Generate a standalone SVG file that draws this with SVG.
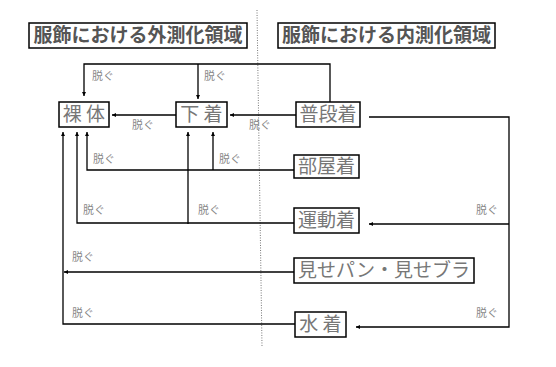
<svg xmlns="http://www.w3.org/2000/svg" width="556" height="367" viewBox="0 0 556 367">
<style>
.title{font-family:"Noto Sans CJK JP","Noto Sans CJK SC",sans-serif;font-size:19px;font-weight:bold;fill:#555}
.node{font-family:"Noto Sans CJK JP","Noto Sans CJK SC",sans-serif;font-size:19px;fill:#777}
.lbl{font-family:"Noto Sans CJK JP","Noto Sans CJK SC",sans-serif;font-size:11px;fill:#888}
.box{fill:#fff;stroke:#000;stroke-width:1.5}
.ln{fill:none;stroke:#000;stroke-width:1.3}
</style>
<defs>
<marker id="ah" viewBox="0 0 10 10" refX="10" refY="5" markerWidth="4" markerHeight="4" orient="auto" markerUnits="userSpaceOnUse">
<path d="M0,0 L10,5 L0,10 z" fill="#000"/>
</marker>
</defs>
<rect width="556" height="367" fill="#fff"/>
<line x1="257" y1="10" x2="262" y2="347" stroke="#777" stroke-width="1" stroke-dasharray="1,1.5"/>
<g id="title-outer"><rect class="box" x="29" y="23" width="218" height="25"/><text class="title" x="138" y="42" text-anchor="middle">服飾における外測化領域</text></g>
<g id="title-inner"><rect class="box" x="278" y="23" width="217" height="25"/><text class="title" x="386.5" y="42" text-anchor="middle">服飾における内測化領域</text></g>
<g id="connectors">
<polyline class="ln" points="330,102 330,64 84,64 84,96" marker-end="url(#ah)"/>
<line class="ln" x1="198" y1="64" x2="198" y2="99" marker-end="url(#ah)"/>
<line class="ln" x1="296" y1="115" x2="230" y2="115" marker-end="url(#ah)"/>
<line class="ln" x1="176" y1="115" x2="112" y2="115" marker-end="url(#ah)"/>
<polyline class="ln" points="369,117 509,117 509,327 356,327" marker-end="url(#ah)"/>
<line class="ln" x1="509" y1="224" x2="369" y2="224" marker-end="url(#ah)"/>
<polyline class="ln" points="294,170 87,170 87,132" marker-end="url(#ah)"/>
<line class="ln" x1="213" y1="170" x2="213" y2="132" marker-end="url(#ah)"/>
<polyline class="ln" points="294,223 77,223 77,132" marker-end="url(#ah)"/>
<line class="ln" x1="188" y1="224" x2="188" y2="132" marker-end="url(#ah)"/>
<polyline class="ln" points="295,324 63,324 63,132" marker-end="url(#ah)"/>
<line class="ln" x1="294" y1="272" x2="64" y2="272" marker-end="url(#ah)"/>
<text class="lbl" x="92" y="80">脱ぐ</text>
<text class="lbl" x="204" y="80">脱ぐ</text>
<text class="lbl" x="132" y="129">脱ぐ</text>
<text class="lbl" x="249" y="129">脱ぐ</text>
<text class="lbl" x="93" y="163">脱ぐ</text>
<text class="lbl" x="219" y="163">脱ぐ</text>
<text class="lbl" x="83" y="214">脱ぐ</text>
<text class="lbl" x="198" y="214">脱ぐ</text>
<text class="lbl" x="72" y="261">脱ぐ</text>
<text class="lbl" x="72" y="317">脱ぐ</text>
<text class="lbl" x="476" y="214">脱ぐ</text>
<text class="lbl" x="476" y="317">脱ぐ</text>
</g>
<g id="hadaka"><rect class="box" x="59" y="102" width="50" height="25"/><text class="node" x="84" y="121" text-anchor="middle">裸 体</text></g>
<g id="shitagi"><rect class="box" x="176" y="102" width="51" height="25"/><text class="node" x="201.5" y="121" text-anchor="middle">下 着</text></g>
<g id="fudangi"><rect class="box" x="296" y="102" width="64" height="25"/><text class="node" x="328" y="121" text-anchor="middle">普段着</text></g>
<g id="heyagi"><rect class="box" x="294" y="155" width="65" height="23"/><text class="node" x="326.5" y="173" text-anchor="middle">部屋着</text></g>
<g id="undougi"><rect class="box" x="294" y="208" width="65" height="25"/><text class="node" x="326.5" y="227" text-anchor="middle">運動着</text></g>
<g id="misepan"><rect class="box" x="294" y="258" width="180" height="25"/><text class="node" x="384" y="277" text-anchor="middle">見せパン・見せブラ</text></g>
<g id="mizugi"><rect class="box" x="295" y="312" width="51" height="25"/><text class="node" x="320.5" y="331" text-anchor="middle">水 着</text></g>
</svg>
